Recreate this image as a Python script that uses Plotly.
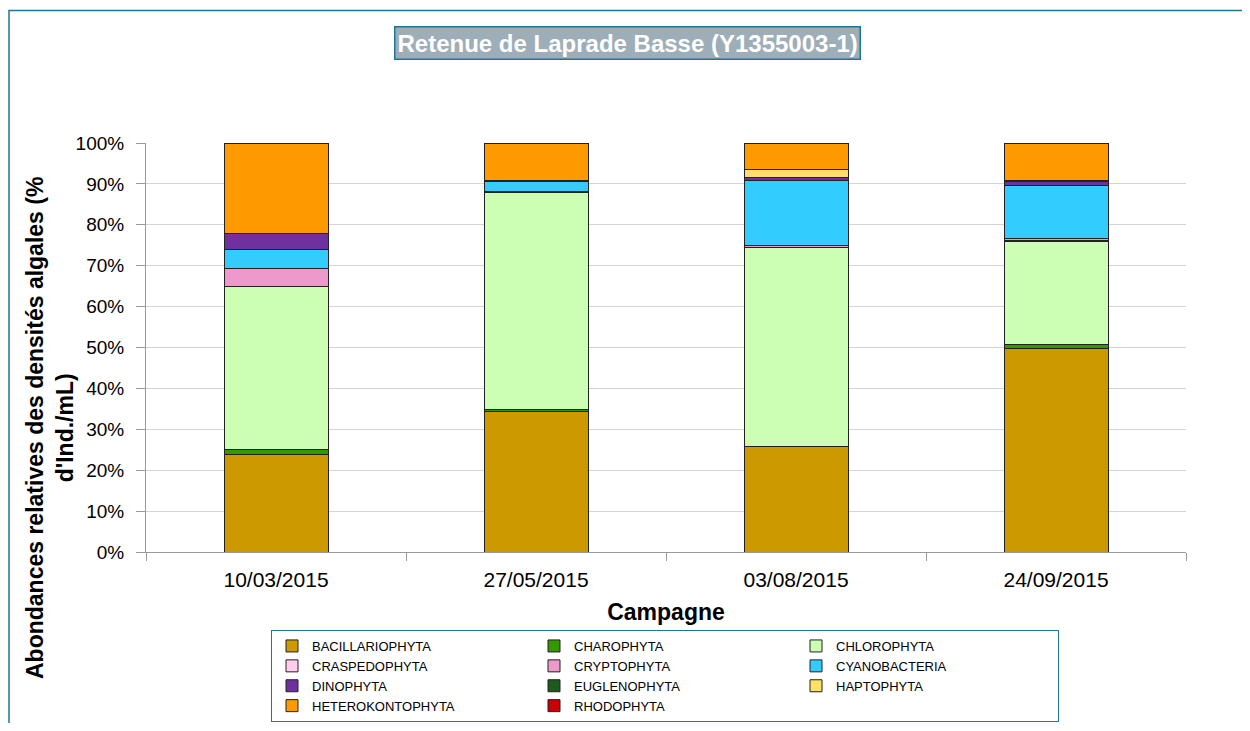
import plotly.graph_objects as go

campagnes = ["10/03/2015", "27/05/2015", "03/08/2015", "24/09/2015"]

groupes = ["BACILLARIOPHYTA", "CHAROPHYTA", "CHLOROPHYTA", "CRASPEDOPHYTA",
           "CRYPTOPHYTA", "CYANOBACTERIA", "DINOPHYTA", "EUGLENOPHYTA",
           "HAPTOPHYTA", "HETEROKONTOPHYTA", "RHODOPHYTA"]

bacillariophyta = [23.8, 34.3, 25.9, 49.8]
charophyta = [1.3, 0.5, 0.0, 1.0]
chlorophyta = [39.8, 53.0, 48.6, 25.0]
craspedophyta = [0.0, 0.0, 0.0, 0.3]
cryptophyta = [4.4, 0.3, 0.5, 0.5]
cyanobacteria = [4.7, 2.5, 15.9, 13.1]
dinophyta = [3.8, 0.3, 0.6, 0.8]
euglenophyta = [0.0, 0.0, 0.0, 0.3]
haptophyta = [0.0, 0.0, 2.1, 0.0]
heterokontophyta = [22.2, 9.1, 6.4, 9.2]
rhodophyta = [0.0, 0.0, 0.0, 0.0]

series = [bacillariophyta, charophyta, chlorophyta, craspedophyta, cryptophyta,
          cyanobacteria, dinophyta, euglenophyta, haptophyta, heterokontophyta,
          rhodophyta]

couleurs = ["#CC9900", "#339900", "#CCFFB3", "#FFCCEE", "#EE99CC", "#33CCFF",
            "#7030A0", "#1E5A1E", "#FFE066", "#FF9900", "#CC0000"]

fig = go.Figure()
for nom, vals, col in zip(groupes, series, couleurs):
    fig.add_trace(go.Bar(
        x=campagnes,
        y=[v / 100 if v > 0 else None for v in vals],
        name=nom,
        marker=dict(color=col, line=dict(color="#222222", width=1)),
    ))

# page has an 8px body margin; plot area in page coords: x 146..1186, y 143..552
OFF = 8
W, H = 1250 - OFF, 731 - 2 * OFF
L, T = 146 - OFF, 143 - OFF
pw, ph = 1040, 409
R = W - L - pw
B = H - T - ph

def px(x):
    return (x - 146) / pw

def py(y):
    return (552 - y) / ph

def cx(x):
    return (x - OFF) / W

def cy(y):
    return 1 - (y - OFF) / H

fig.update_layout(
    template="none",
    width=W, height=H,
    margin=dict(l=L, r=R, t=T, b=B, pad=0, autoexpand=False),
    barmode="stack",
    bargap=0.6,
    plot_bgcolor="white",
    paper_bgcolor="white",
    font=dict(family="Liberation Sans, Arial, sans-serif", color="black"),
    showlegend=True,
    legend=dict(
        orientation="h",
        traceorder="normal",
        xref="container", yref="container",
        x=cx(271), xanchor="left",
        y=cy(630), yanchor="top",
        bordercolor="#1A7896", borderwidth=1,
        bgcolor="white",
        font=dict(size=13, family="Liberation Sans, Arial, sans-serif"),
        entrywidth=217, entrywidthmode="pixels",
        itemwidth=30,
    ),
    xaxis=dict(
        automargin=False,
        showline=True, linecolor="#999999", linewidth=1,
        showgrid=False, zeroline=False,
        ticks="outside", tickson="boundaries", ticklen=8, tickcolor="#999999",
        tickfont=dict(size=21),
        ticklabelstandoff=9,
        title=dict(text="<b>Campagne</b>", font=dict(size=23), standoff=13),
    ),
    yaxis=dict(
        automargin=False,
        range=[0, 1],
        tickformat=".0%",
        dtick=0.1,
        showline=True, linecolor="#999999", linewidth=1,
        ticks="outside", ticklen=9, tickcolor="#999999",
        ticklabelstandoff=8,
        showgrid=True, gridcolor="#D4D4D4", gridwidth=1,
        tickfont=dict(size=19),
        zeroline=False,
    ),
    annotations=[
        dict(text="<b>Retenue de Laprade Basse (Y1355003-1)</b>",
             xref="paper", yref="paper", x=px(627), y=py(43),
             xanchor="center", yanchor="middle", showarrow=False,
             font=dict(size=24, color="white"),
             bgcolor="#9DAEB8", bordercolor="#1A7896", borderwidth=1.5,
             borderpad=2),
        dict(text="<b>Abondances relatives des densités algales (%<br>d'Ind./mL)</b>",
             xref="paper", yref="paper", x=px(50), y=py(428),
             xanchor="center", yanchor="middle", showarrow=False,
             textangle=-90, font=dict(size=23, color="black")),
    ],
    shapes=[
        dict(type="rect", xref="paper", yref="paper",
             x0=px(9), x1=px(1245), y0=py(760), y1=py(10.5),
             line=dict(color="#1A7896", width=1.5), fillcolor="rgba(0,0,0,0)",
             layer="below"),
    ],
)

fig.write_html("out.html")
